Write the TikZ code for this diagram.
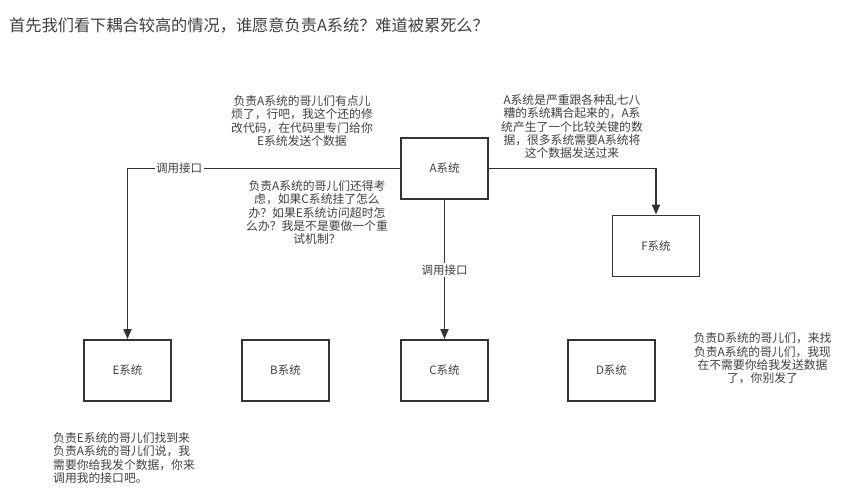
\documentclass[tikz,border=0pt]{standalone}
\usepackage{fontspec}
\newfontfamily\cjk{Noto Sans CJK SC}
\usetikzlibrary{arrows.meta}
\definecolor{ink}{HTML}{333333}
\definecolor{txt}{HTML}{404040}
\tikzset{
  sysbox/.style={draw=ink, line width=1.9pt, minimum width=87pt, minimum height=61pt, inner sep=0pt, text=txt, font=\cjk\fontsize{11.5}{13}\selectfont},
  note/.style={text=txt, align=center, inner sep=0pt, font=\cjk\fontsize{11.8}{13.3}\selectfont},
  notel/.style={note, align=left},
  conn/.style={draw=ink, line width=1.9pt},
  arr/.style={conn, -{Triangle[length=10pt, width=8pt]}},
  lbl/.style={fill=white, text=txt, inner sep=1.5pt, font=\cjk\fontsize{11.5}{13}\selectfont}
}
\begin{document}
\begin{tikzpicture}[x=1pt, y=-1pt]
\useasboundingbox[fill=white] (0,0) rectangle (864,501);
\node[anchor=west, text=txt, inner sep=0pt, font=\cjk\fontsize{16.2}{19}\selectfont] (title) at (9,25) {首先我们看下耦合较高的情况，谁愿意负责A系统？难道被累死么？};

\node[sysbox] (A) at (444.5,168.5) {A系统};
\node[sysbox] (F) at (656,246) {F系统};
\node[sysbox] (E) at (127.5,370.5) {E系统};
\node[sysbox] (B) at (285.5,370.5) {B系统};
\node[sysbox] (C) at (444.5,370.5) {C系统};
\node[sysbox] (D) at (611.5,370.5) {D系统};

\coordinate (eTurn) at (E.north |- A.west);
\draw[arr] (A.west) -- (eTurn) -- (E.north);
\draw[arr] (A.east) -| (F.north);
\draw[arr] (A.south) -- (C.north);
\node[lbl] (l1) at (179,168) {调用接口};
\node[lbl] (l2) at (444.5,270) {调用接口};

\node[note] (n1) at (302,121) {负责A系统的哥儿们有点儿\\烦了，行吧，我这个还的修\\改代码，在代码里专门给你\\E系统发送个数据};
\node[note] (n3) at (572,126.5) {A系统是严重跟各种乱七八\\糟的系统耦合起来的，A系\\统产生了一个比较关键的数\\据，很多系统需要A系统将\\这个数据发送过来};
\node[note] (n4) at (317,212.5) {负责A系统的哥儿们还得考\\虑，如果C系统挂了怎么\\办？如果E系统访问超时怎\\么办？我是不是要做一个重\\试机制？};
\node[note] (nD) at (762.5,358.5) {负责D系统的哥儿们，来找\\负责A系统的哥儿们，我现\\在不需要你给我发送数据\\了，你别发了};
\node[notel, anchor=west] (nE) at (53,458) {负责E系统的哥儿们找到来\\负责A系统的哥儿们说，我\\需要你给我发个数据，你来\\调用我的接口吧。};
\end{tikzpicture}
\end{document}
